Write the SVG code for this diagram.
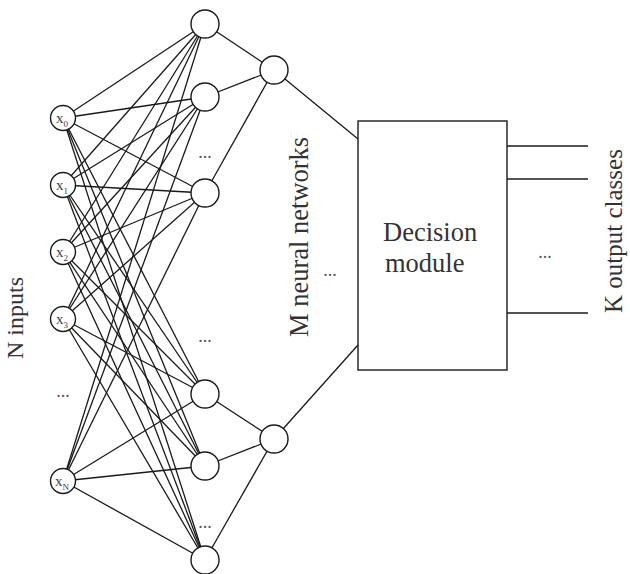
<svg xmlns="http://www.w3.org/2000/svg" width="630" height="574" viewBox="0 0 630 574">
  <style>
    .edge { stroke: #1a1a1a; stroke-width: 1.3; fill: none; }
    .node { fill: #ffffff; stroke: #1a1a1a; stroke-width: 1.4; }
    .lbl { font-family: "Liberation Serif", "DejaVu Serif", serif; fill: #333333; }
    .inp { font-size: 15px; fill: #444444; }
    .sub { font-size: 9px; }
    .dots { font-family: "Liberation Serif", serif; font-size: 18px; fill: #555555; text-anchor: middle; }
  </style>
  <rect width="630" height="574" fill="#ffffff"/>

  <!-- connectors -->
  <g id="connectors" class="edge">
    <!-- inputs to hidden units (fully connected) -->
    <line x1="63" y1="118" x2="205" y2="24"/><line x1="63" y1="118" x2="205" y2="97"/><line x1="63" y1="118" x2="205" y2="193"/>
    <line x1="63" y1="118" x2="205" y2="394"/><line x1="63" y1="118" x2="205" y2="466"/><line x1="63" y1="118" x2="205" y2="560"/>
    <line x1="63" y1="185" x2="205" y2="24"/><line x1="63" y1="185" x2="205" y2="97"/><line x1="63" y1="185" x2="205" y2="193"/>
    <line x1="63" y1="185" x2="205" y2="394"/><line x1="63" y1="185" x2="205" y2="466"/><line x1="63" y1="185" x2="205" y2="560"/>
    <line x1="63" y1="252" x2="205" y2="24"/><line x1="63" y1="252" x2="205" y2="97"/><line x1="63" y1="252" x2="205" y2="193"/>
    <line x1="63" y1="252" x2="205" y2="394"/><line x1="63" y1="252" x2="205" y2="466"/><line x1="63" y1="252" x2="205" y2="560"/>
    <line x1="63" y1="319" x2="205" y2="24"/><line x1="63" y1="319" x2="205" y2="97"/><line x1="63" y1="319" x2="205" y2="193"/>
    <line x1="63" y1="319" x2="205" y2="394"/><line x1="63" y1="319" x2="205" y2="466"/><line x1="63" y1="319" x2="205" y2="560"/>
    <line x1="63" y1="481" x2="205" y2="24"/><line x1="63" y1="481" x2="205" y2="97"/><line x1="63" y1="481" x2="205" y2="193"/>
    <line x1="63" y1="481" x2="205" y2="394"/><line x1="63" y1="481" x2="205" y2="466"/><line x1="63" y1="481" x2="205" y2="560"/>
    <!-- hidden units to network outputs -->
    <line x1="205" y1="24" x2="274" y2="70"/><line x1="205" y1="97" x2="274" y2="70"/><line x1="205" y1="193" x2="274" y2="70"/>
    <line x1="205" y1="394" x2="274" y2="439"/><line x1="205" y1="466" x2="274" y2="439"/><line x1="205" y1="560" x2="274" y2="439"/>
    <!-- network outputs to decision module -->
    <line x1="274" y1="70" x2="358" y2="139"/>
    <line x1="274" y1="439" x2="358" y2="345"/>
    <!-- class outputs -->
    <line x1="507" y1="146" x2="588" y2="146"/>
    <line x1="507" y1="179" x2="588" y2="179"/>
    <line x1="507" y1="313" x2="588" y2="313"/>
  </g>

  <!-- input nodes -->
  <g id="in0"><circle class="node" cx="63" cy="118" r="12.5"/><text class="lbl inp" x="56" y="123">x<tspan class="sub" dy="4">0</tspan></text></g>
  <g id="in1"><circle class="node" cx="63" cy="185" r="12.5"/><text class="lbl inp" x="56" y="190">x<tspan class="sub" dy="4">1</tspan></text></g>
  <g id="in2"><circle class="node" cx="63" cy="252" r="12.5"/><text class="lbl inp" x="56" y="257">x<tspan class="sub" dy="4">2</tspan></text></g>
  <g id="in3"><circle class="node" cx="63" cy="319" r="12.5"/><text class="lbl inp" x="56" y="324">x<tspan class="sub" dy="4">3</tspan></text></g>
  <g id="inN"><circle class="node" cx="63" cy="481" r="12.5"/><text class="lbl inp" x="55" y="486">x<tspan class="sub" dy="4">N</tspan></text></g>
  <text class="dots" x="63" y="397">...</text>

  <!-- hidden units -->
  <g id="h1"><circle class="node" cx="205" cy="24" r="14"/></g>
  <g id="h2"><circle class="node" cx="205" cy="97" r="14"/></g>
  <g id="h3"><circle class="node" cx="205" cy="193" r="14"/></g>
  <g id="h4"><circle class="node" cx="205" cy="394" r="14"/></g>
  <g id="h5"><circle class="node" cx="205" cy="466" r="14"/></g>
  <g id="h6"><circle class="node" cx="205" cy="560" r="14"/></g>
  <text class="dots" x="205" y="158">...</text>
  <text class="dots" x="205" y="342">...</text>
  <text class="dots" x="205" y="528">...</text>

  <!-- network outputs -->
  <g id="o1"><circle class="node" cx="274" cy="70" r="14"/></g>
  <g id="o2"><circle class="node" cx="274" cy="439" r="14"/></g>

  <!-- decision module -->
  <g id="decision">
    <rect x="358" y="121" width="149" height="249" fill="#ffffff" stroke="#1a1a1a" stroke-width="1.4"/>
    <text class="lbl" font-size="26.5" x="383" y="241">Decision</text>
    <text class="lbl" font-size="26.5" x="385" y="272">module</text>
  </g>
  <text class="dots" x="545" y="258">...</text>
  <text class="dots" x="330" y="276">...</text>

  <!-- axis labels -->
  <text class="lbl" font-size="24" transform="translate(23,318) rotate(-90)" text-anchor="middle">N inputs</text>
  <text class="lbl" font-size="26.5" transform="translate(308,337) rotate(-90)">M neural networks</text>
  <text class="lbl" font-size="25" transform="translate(622,313) rotate(-90)">K output classes</text>
</svg>
